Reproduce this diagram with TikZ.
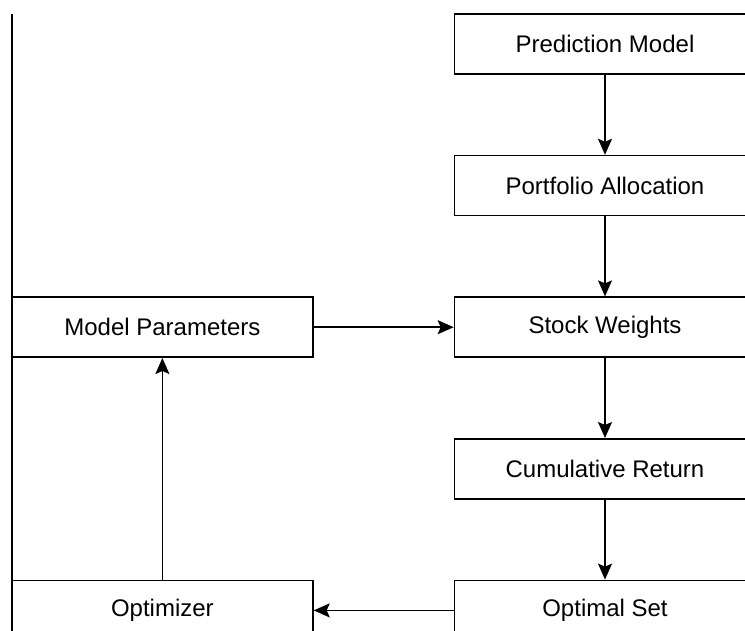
\documentclass[tikz,border=0pt]{standalone}
\usepackage{fontspec}
\setmainfont{Liberation Sans}
\usetikzlibrary{arrows.meta, positioning}

\begin{document}
\begin{tikzpicture}[x=1pt, y=1pt,
    block/.style={draw, line width=1.6pt, minimum width=301pt, minimum height=60pt, inner sep=0pt, font=\fontsize{24}{28}\selectfont},
    flow/.style={-{Stealth[length=16pt, width=14pt, inset=3pt]}, line width=1.6pt},
    node distance=80pt and 140pt]
    % Frame
    \clip (0,0) rectangle (745,-630);
    \draw[line width=1.2pt] (12,-14) -- (12,-630);

    % Right column
    \node[block] (pm) at (605,-44) {Prediction Model};
    \node[block, below=of pm] (pa) {Portfolio Allocation};
    \node[block, below=of pa] (sw) {Stock Weights};
    \node[block, below=of sw] (cr) {Cumulative Return};
    \node[block, below=of cr] (os) {Optimal Set};

    % Left column (feedback loop)
    \node[block, left=of sw] (mp) {Model Parameters};
    \node[block, left=of os] (opt) {Optimizer};

    % Arrows
    \draw[flow] (pm) -- (pa);
    \draw[flow] (pa) -- (sw);
    \draw[flow] (sw) -- (cr);
    \draw[flow] (cr) -- (os);
    \draw[flow] (mp) -- (sw);
    \draw[flow] (os) -- (opt);
    \draw[flow] (opt) -- (mp);
\end{tikzpicture}
\end{document}
